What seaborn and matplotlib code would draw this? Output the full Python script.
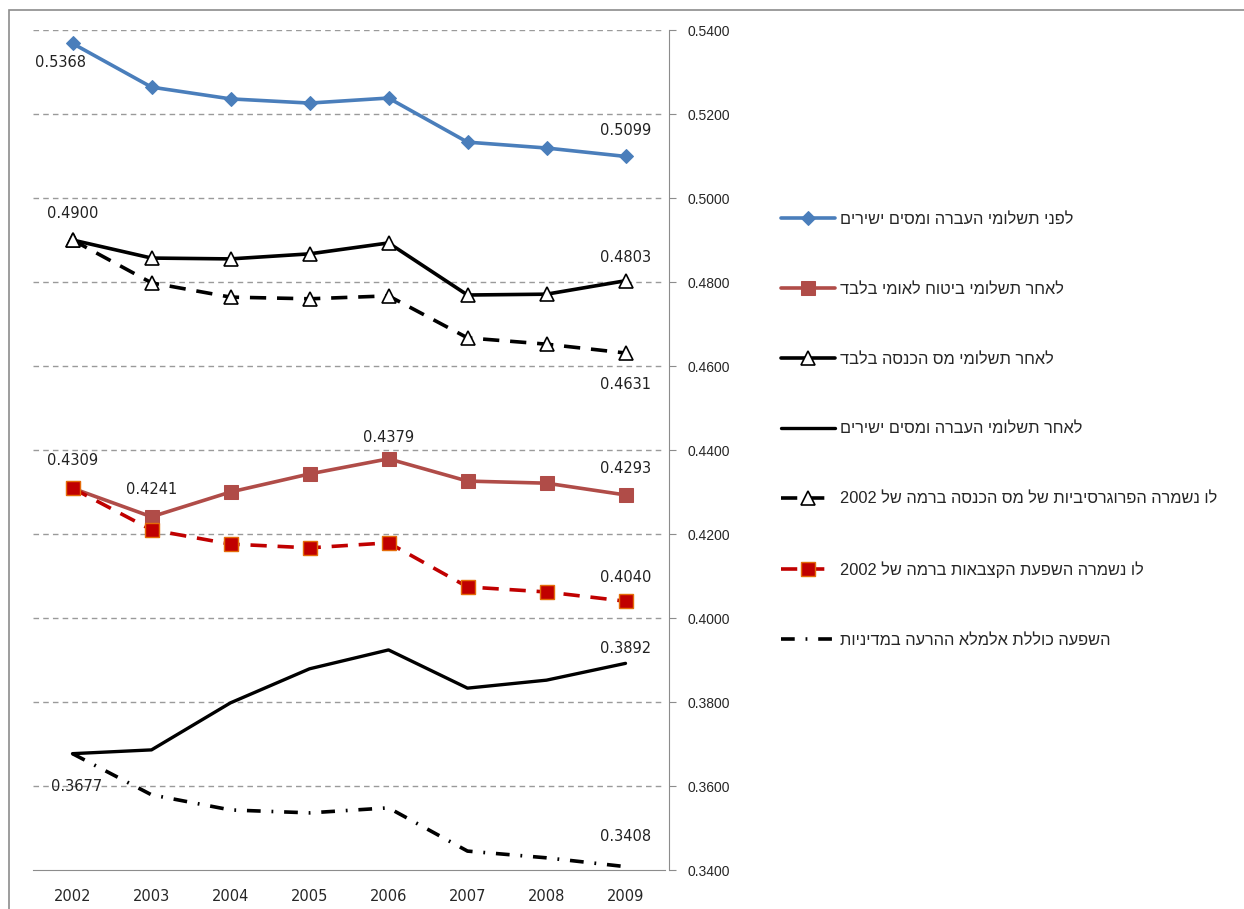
import numpy as np
import matplotlib.pyplot as plt
import matplotlib.patches as patches
import seaborn as sns

years = ['2002', '2003', '2004', '2005', '2006', '2007', '2008', '2009']

before_all = [0.5368, 0.5264, 0.5236, 0.5226, 0.5238, 0.5133, 0.5119, 0.5099]
after_ni = [0.4309, 0.4241, 0.4300, 0.4343, 0.4379, 0.4326, 0.4321, 0.4293]
after_tax = [0.4900, 0.4857, 0.4855, 0.4867, 0.4893, 0.4769, 0.4771, 0.4803]
after_all = [0.3677, 0.3686, 0.3798, 0.3879, 0.3924, 0.3833, 0.3852, 0.3892]
tax_2002 = [0.4900, 0.4798, 0.4764, 0.4760, 0.4767, 0.4667, 0.4652, 0.4631]
ni_2002 = [0.4309, 0.4210, 0.4176, 0.4167, 0.4179, 0.4074, 0.4062, 0.4040]
no_policy = [0.3677, 0.3579, 0.3543, 0.3536, 0.3548, 0.3445, 0.3429, 0.3408]

names = ['לפני תשלומי העברה ומסים ישירים',
         'לאחר תשלומי ביטוח לאומי בלבד',
         'לאחר תשלומי מס הכנסה בלבד',
         'לאחר תשלומי העברה ומסים ישירים',
         'לו נשמרה הפרוגרסיביות של מס הכנסה ברמה של 2002',
         'לו נשמרה השפעת הקצבאות ברמה של 2002',
         'השפעה כוללת אלמלא ההרעה במדיניות']


def visual(s):
    # matplotlib has no bidi support: lay the words out right-to-left by hand
    out = []
    for w in reversed(s.split(' ')):
        out.append(w if w.isdigit() else w[::-1])
    return ' '.join(out)


sns.set_style('white')
plt.rcParams['font.family'] = ['Liberation Sans', 'DejaVu Sans']
num_font = 'DejaVu Sans'

fig = plt.figure(figsize=(12.44, 9.09), dpi=100)
ax = fig.add_axes([33 / 1244, 1 - 870 / 909, 632 / 1244, 840 / 909])
fig.patches.append(patches.Rectangle((9 / 1244, -0.05), 1.1, 1 - 10 / 909 + 0.05,
                                     transform=fig.transFigure, fill=False,
                                     edgecolor='#8c8c8c', linewidth=1.2))

x = np.arange(len(years))
dash = (0, (4.5, 3))

sns.lineplot(x=x, y=before_all, ax=ax, color='#4a7ebb', lw=2.6, marker='D', ms=7,
             mec='#4a7ebb', label=visual(names[0]))
sns.lineplot(x=x, y=after_ni, ax=ax, color='#b04c48', lw=2.6, marker='s', ms=10,
             mec='#b04c48', label=visual(names[1]))
sns.lineplot(x=x, y=after_tax, ax=ax, color='black', lw=2.6, marker='^', ms=10,
             mfc='white', mec='black', mew=1.2, label=visual(names[2]))
sns.lineplot(x=x, y=after_all, ax=ax, color='black', lw=2.4, label=visual(names[3]))
sns.lineplot(x=x, y=tax_2002, ax=ax, color='black', lw=2.6, ls=dash, marker='^', ms=10,
             mfc='white', mec='black', mew=1.2, label=visual(names[4]))
sns.lineplot(x=x, y=ni_2002, ax=ax, color='#c00000', lw=2.6, ls=dash, marker='s', ms=10,
             mfc='#c00000', mec='#e46c0a', mew=1, label=visual(names[5]))
sns.lineplot(x=x, y=no_policy, ax=ax, color='black', lw=2.6, ls=(0, (3.8, 3, 0.5, 3)),
             label=visual(names[6]))

# data labels
labels = [
    (0, before_all[0], -9, -14), (7, before_all[7], 0, 19),
    (0, after_tax[0], 0, 19), (7, after_tax[7], 0, 17),
    (7, tax_2002[7], 0, -23),
    (0, after_ni[0], 0, 20), (1, after_ni[1], 0, 20), (4, after_ni[4], 0, 15), (7, after_ni[7], 0, 19),
    (7, ni_2002[7], 0, 17),
    (7, after_all[7], 0, 11),
    (0, no_policy[0], 3, -24), (7, no_policy[7], 0, 22),
]
for xi, yv, dx, dy in labels:
    ax.annotate(f'{yv:.4f}', (xi, yv), xytext=(dx, dy), textcoords='offset points',
                ha='center', va='center', fontsize=10.5, color='#222222', family=num_font)

ax.set_xlim(-0.5, 7.5)
ax.set_ylim(0.34, 0.54)
ax.set_yticks(np.arange(0.34, 0.5401, 0.02))
ax.yaxis.tick_right()
ax.set_yticklabels([f'{v:.4f}' for v in np.arange(0.34, 0.5401, 0.02)], fontsize=10.5,
                   family=num_font)
ax.set_xticks(x)
ax.set_xticklabels(years, fontsize=10.5, family=num_font)
ax.set_xticks(np.arange(-0.5, 8, 1), minor=True)
ax.tick_params(axis='x', which='major', length=0, pad=14)
ax.tick_params(axis='x', which='minor', length=5, color='#8c8c8c', direction='out')
ax.tick_params(axis='y', length=5, color='#8c8c8c', direction='out', pad=8, right=True)

for v in np.arange(0.36, 0.5401, 0.02):
    ax.axhline(v, color='#9a9a9a', lw=1, ls=(0, (4, 3)), zorder=0)

for s in ['top', 'left']:
    ax.spines[s].set_visible(False)
ax.spines['right'].set_color('#8c8c8c')
ax.spines['bottom'].set_color('#8c8c8c')
ax.spines['right'].set_position(('outward', 3))

leg = ax.legend(loc='upper left', bbox_to_anchor=(766 / 1244, 1 - 197 / 909),
                bbox_transform=fig.transFigure, frameon=False, fontsize=11.8,
                handlelength=3.3, handletextpad=0.3, labelspacing=3.35)

fig.savefig('out.png', dpi=100)
